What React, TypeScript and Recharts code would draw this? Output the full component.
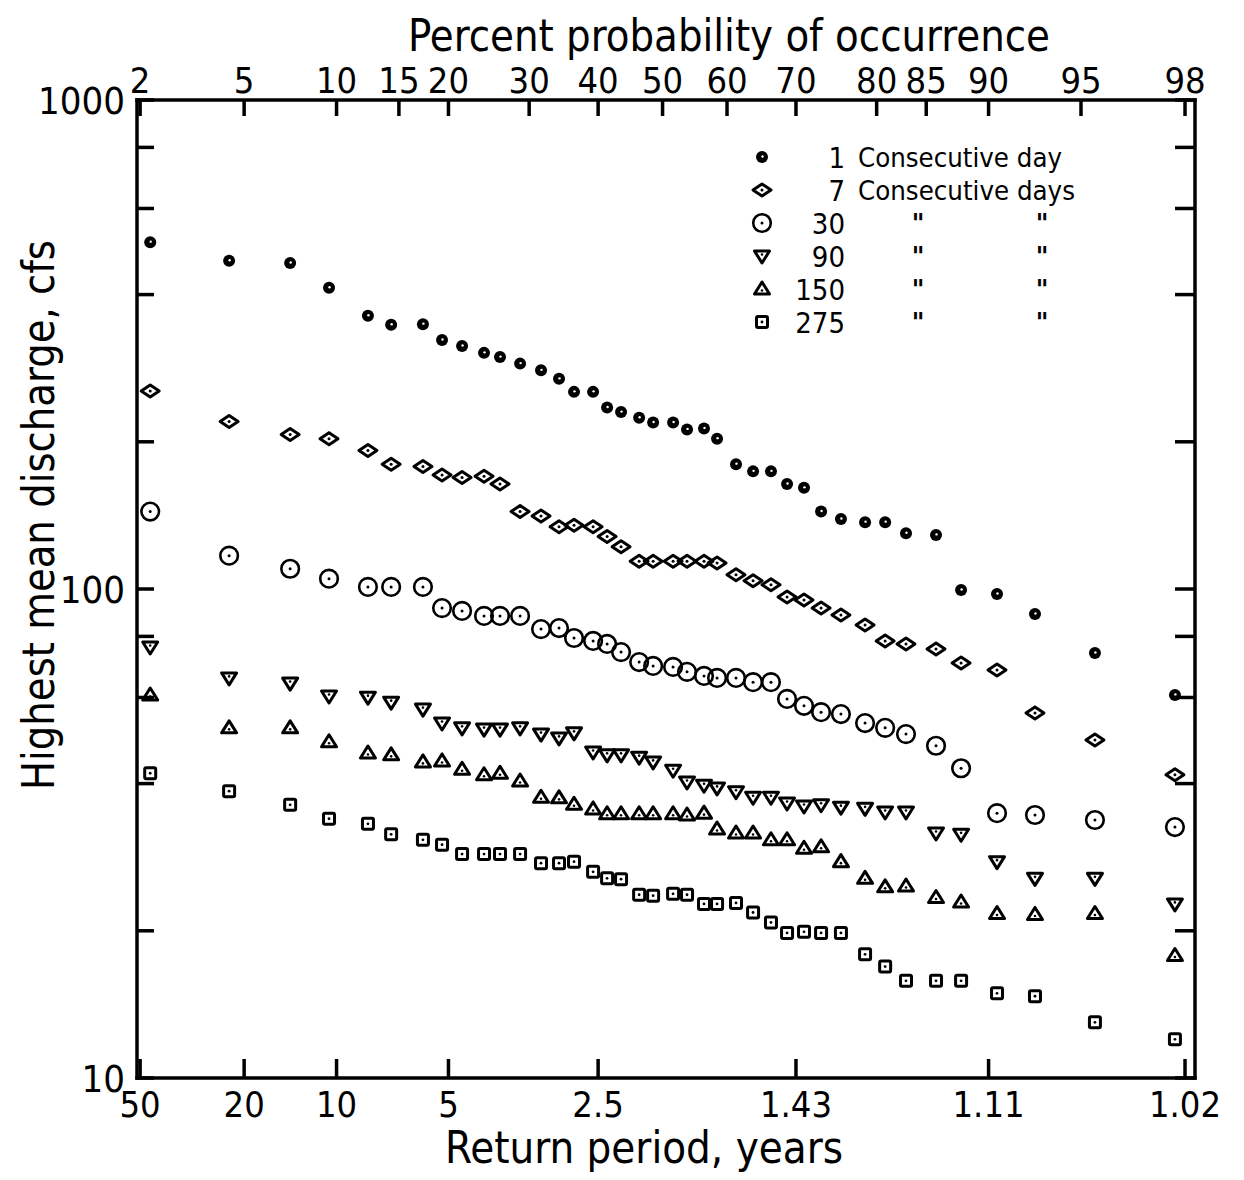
import React from 'react';
import { ScatterChart, Scatter, XAxis, YAxis, Label } from 'recharts';

// Plotting positions (percent probability of occurrence) of the 40 ranked years
const probabilityPercent = [2.2, 4.42, 7.16, 9.49, 12.34, 14.3, 17.31, 19.3, 21.53, 24.14, 26.14, 28.77, 31.64, 34.2, 36.39, 39.24, 41.37, 43.52, 46.33, 48.52, 51.65, 53.83, 56.47, 58.48, 61.36, 63.9, 66.5, 68.77, 71.09, 73.34, 75.84, 78.7, 80.92, 83.07, 85.88, 87.97, 90.57, 92.84, 95.54, 97.8];

// Highest mean discharge, cfs
const oneDay = [512, 469, 464, 413, 362, 347, 348, 323, 314, 304, 298, 289, 280, 269, 253, 253, 235, 230, 224, 219, 219, 212, 213, 203, 180, 174, 174, 164, 161, 144, 139, 137, 137, 130, 129, 99.5, 97.7, 88.9, 74.0, 60.7];
const sevenDay = [254, 220, 207, 203, 192, 180, 178, 171, 169, 170, 164, 144, 141, 134, 135, 134, 128, 122, 114, 114, 114, 114, 114, 113, 107, 104, 102, 96.3, 94.9, 91.4, 88.5, 84.4, 78.3, 77.2, 75.4, 70.6, 68.3, 55.8, 49.1, 41.7];
const thirtyDay = [144, 117, 110, 105, 101, 101, 101, 91.4, 90.2, 88.1, 88.1, 88.1, 82.8, 83.2, 79.4, 78.3, 77.2, 74.3, 70.9, 69.6, 69.3, 67.7, 66.4, 65.8, 65.8, 64.5, 64.5, 59.6, 57.7, 56.0, 55.5, 53.2, 52.0, 50.5, 47.8, 43.0, 34.8, 34.5, 33.7, 32.6];
const ninetyDay = [76.1, 65.8, 64.2, 60.4, 60.1, 58.7, 56.8, 53.2, 52.0, 51.7, 51.7, 52.0, 50.5, 49.6, 50.8, 46.4, 45.8, 45.8, 45.3, 44.3, 42.6, 40.3, 39.7, 39.2, 38.5, 37.5, 37.5, 36.5, 36.0, 36.2, 35.8, 35.6, 35.0, 35.0, 31.7, 31.5, 27.7, 25.6, 25.6, 22.7];
const oneFiftyDay = [60.7, 52.0, 52.0, 48.7, 46.2, 45.8, 44.3, 44.5, 42.8, 41.7, 42.0, 40.5, 37.5, 37.4, 36.3, 35.5, 34.7, 34.7, 34.7, 34.7, 34.7, 34.5, 34.8, 32.3, 31.7, 31.7, 30.7, 30.7, 29.5, 29.7, 27.7, 25.6, 24.6, 24.7, 23.4, 22.9, 21.7, 21.6, 21.7, 17.8];
const twoSeventyFiveDay = [42.0, 38.6, 36.2, 33.9, 33.1, 31.5, 30.7, 30.0, 28.7, 28.7, 28.7, 28.7, 27.5, 27.5, 27.7, 26.4, 25.6, 25.5, 23.7, 23.6, 23.8, 23.7, 22.7, 22.7, 22.8, 21.8, 20.8, 19.8, 19.9, 19.8, 19.8, 17.9, 16.9, 15.8, 15.8, 15.8, 14.9, 14.7, 13.0, 12.0];

// Axis ticks
const topTickPercent = [2, 5, 10, 15, 20, 30, 40, 50, 60, 70, 80, 85, 90, 95, 98];
const returnPeriodPercent = [2, 5, 10, 20, 40, 70, 90, 98];
const returnPeriodLabels = ['50', '20', '10', '5', '2.5', '1.43', '1.11', '1.02'];
const yTicks = [10, 20, 40, 60, 80, 100, 200, 400, 600, 800, 1000];
const yLabelled = [10, 100, 1000];

// Legend
const legendNumbers = ['1', '7', '30', '90', '150', '275'];
const legendTexts = ['Consecutive day', 'Consecutive days', '', '', '', ''];
const legendDitto = [false, false, true, true, true, true];

const FONT = "'DejaVu Sans Condensed', 'Liberation Sans Narrow', 'Roboto Condensed', 'DejaVu Sans', sans-serif";

// inverse normal CDF (normal probability paper scale)
function probit(p: number): number {
  const a = [-3.969683028665376e1, 2.209460984245205e2, -2.759285104469687e2, 1.38357751867269e2, -3.066479806614716e1, 2.506628277459239];
  const b = [-5.447609879822406e1, 1.615858368580409e2, -1.556989798598866e2, 6.680131188771972e1, -1.328068155288572e1];
  const c = [-7.784894002430293e-3, -3.223964580411365e-1, -2.400758277161838, -2.549732539343734, 4.374664141464968, 2.938163982698783];
  const d = [7.784695709041462e-3, 3.224671290700398e-1, 2.445134137142996, 3.754408661907416];
  const pl = 0.02425;
  if (p < pl) {
    const q = Math.sqrt(-2 * Math.log(p));
    return (((((c[0] * q + c[1]) * q + c[2]) * q + c[3]) * q + c[4]) * q + c[5]) / ((((d[0] * q + d[1]) * q + d[2]) * q + d[3]) * q + 1);
  }
  if (p > 1 - pl) {
    const q = Math.sqrt(-2 * Math.log(1 - p));
    return -(((((c[0] * q + c[1]) * q + c[2]) * q + c[3]) * q + c[4]) * q + c[5]) / ((((d[0] * q + d[1]) * q + d[2]) * q + d[3]) * q + 1);
  }
  const q = p - 0.5;
  const r = q * q;
  return (((((a[0] * r + a[1]) * r + a[2]) * r + a[3]) * r + a[4]) * r + a[5]) * q / (((((b[0] * r + b[1]) * r + b[2]) * r + b[3]) * r + b[4]) * r + 1);
}

const toData = (values: number[]) => values.map((v, i) => ({ z: probit(probabilityPercent[i] / 100), v }));

const X_DOMAIN: [number, number] = [-2.066, 2.093];
const topTicksZ = topTickPercent.map((p) => probit(p / 100));
const bottomTicksZ = returnPeriodPercent.map((p) => probit(p / 100));

// ---------- marker shapes ----------
const SW = 3;
const FilledDot = ({ cx, cy }: any) => (
  <g>
    <circle cx={cx} cy={cy} r={6} fill="#000" />
    <circle cx={cx + 0.5} cy={cy - 0.5} r={1.2} fill="#fff" />
  </g>
);
const Diamond = ({ cx, cy }: any) => (
  <g>
    <path d={`M${cx - 9},${cy} L${cx},${cy - 6} L${cx + 9},${cy} L${cx},${cy + 6} Z`} fill="none" stroke="#000" strokeWidth={SW} strokeLinejoin="round" />
    <circle cx={cx} cy={cy} r={1.5} fill="#000" />
  </g>
);
const RingDot = ({ cx, cy }: any) => (
  <g>
    <circle cx={cx} cy={cy} r={8.8} fill="none" stroke="#000" strokeWidth={2.6} />
    <circle cx={cx} cy={cy} r={1.5} fill="#000" />
  </g>
);
const TriDown = ({ cx, cy }: any) => (
  <g>
    <path d={`M${cx - 7.5},${cy - 5} L${cx + 7.5},${cy - 5} L${cx},${cy + 7} Z`} fill="none" stroke="#000" strokeWidth={SW} strokeLinejoin="round" />
    <circle cx={cx} cy={cy - 1.5} r={1.3} fill="#000" />
  </g>
);
const TriUp = ({ cx, cy }: any) => (
  <g>
    <path d={`M${cx - 7.5},${cy + 5} L${cx + 7.5},${cy + 5} L${cx},${cy - 7} Z`} fill="none" stroke="#000" strokeWidth={SW} strokeLinejoin="round" />
    <circle cx={cx} cy={cy + 1.5} r={1.3} fill="#000" />
  </g>
);
const SquareDot = ({ cx, cy }: any) => (
  <g>
    <rect x={cx - 5.5} y={cy - 5.5} width={11} height={11} fill="none" stroke="#000" strokeWidth={SW} rx={1.5} />
    <circle cx={cx} cy={cy} r={1.4} fill="#000" />
  </g>
);

const seriesList = [
  { name: '1 Consecutive day', values: oneDay, Shape: FilledDot },
  { name: '7 Consecutive days', values: sevenDay, Shape: Diamond },
  { name: '30 Consecutive days', values: thirtyDay, Shape: RingDot },
  { name: '90 Consecutive days', values: ninetyDay, Shape: TriDown },
  { name: '150 Consecutive days', values: oneFiftyDay, Shape: TriUp },
  { name: '275 Consecutive days', values: twoSeventyFiveDay, Shape: SquareDot },
];

// ---------- ticks ----------
const TICK_W = 3.5;
const LeftTick = ({ x, y, payload }: any) => (
  <g>
    <line x1={x} y1={y} x2={x + 17} y2={y} stroke="#000" strokeWidth={TICK_W} />
    {yLabelled.includes(payload.value) && (
      <text x={x - 12} y={y + 14} textAnchor="end" fontSize={38} fontFamily={FONT} fill="#000">
        {payload.value}
      </text>
    )}
  </g>
);
const RightTick = ({ x, y }: any) => (
  <line x1={x} y1={y} x2={x - 20} y2={y} stroke="#000" strokeWidth={TICK_W} />
);
const BottomTick = ({ x, y, index }: any) => (
  <g>
    <line x1={x} y1={y} x2={x} y2={y - 19} stroke="#000" strokeWidth={TICK_W} />
    <text x={x} y={y + 39} textAnchor="middle" fontSize={36} fontFamily={FONT} fill="#000">
      {returnPeriodLabels[index]}
    </text>
  </g>
);
const TopTick = ({ x, y, index }: any) => (
  <g>
    <line x1={x} y1={y} x2={x} y2={y + 16} stroke="#000" strokeWidth={TICK_W} />
    <text x={x} y={y - 7} textAnchor="middle" fontSize={36} fontFamily={FONT} fill="#000">
      {topTickPercent[index]}
    </text>
  </g>
);

const axisLine = { stroke: '#000', strokeWidth: 3.5, strokeLinecap: 'square' as const };

const LEG_TOP = 124;
const Legendbox = () => (
  <svg width={370} height={220} style={{ position: 'absolute', left: 730, top: LEG_TOP }}>
    {seriesList.map((s, i) => {
      const cy = 25 + i * 33;
      const S = s.Shape;
      return (
        <g key={s.name}>
          <S cx={24} cy={cy} />
          <text x={107} y={cy + 11} textAnchor="end" fontSize={29} fontFamily={FONT} fill="#000">
            {legendNumbers[i]}
          </text>
          {legendTexts[i] && (
            <text x={120} y={cy + 10} fontSize={27} fontFamily={FONT} fill="#000" textLength={i === 0 ? 204 : 217} lengthAdjust="spacingAndGlyphs">
              {legendTexts[i]}
            </text>
          )}
          {legendDitto[i] && (
            <>
              <text x={180} y={cy + 10} textAnchor="middle" fontSize={27} fontWeight="bold" fontFamily={FONT} fill="#000">"</text>
              <text x={304} y={cy + 10} textAnchor="middle" fontSize={27} fontWeight="bold" fontFamily={FONT} fill="#000">"</text>
            </>
          )}
        </g>
      );
    })}
  </svg>
);

export default function App() {
  return (
    <div style={{ position: 'relative', width: 1228, height: 1170, background: '#fff' }}>
      <ScatterChart width={1228} height={1170} margin={{ top: 22, right: 21, bottom: 20, left: 19 }}>
        <XAxis
          xAxisId="bottom"
          orientation="bottom"
          type="number"
          dataKey="z"
          domain={X_DOMAIN}
          allowDataOverflow
          ticks={bottomTicksZ}
          interval={0}
          height={80}
          tickSize={0}
          tickMargin={0}
          tickLine={false}
          axisLine={axisLine}
          tick={<BottomTick />}
        >
          <Label
            content={() => (
              <text x={636} y={1155} textAnchor="middle" fontSize={44} fontFamily={FONT} fill="#000" textLength={398} lengthAdjust="spacingAndGlyphs">
                Return period, years
              </text>
            )}
          />
        </XAxis>
        <XAxis
          xAxisId="top"
          orientation="top"
          type="number"
          dataKey="z"
          domain={X_DOMAIN}
          allowDataOverflow
          ticks={topTicksZ}
          interval={0}
          height={70}
          tickSize={0}
          tickMargin={0}
          tickLine={false}
          axisLine={axisLine}
          tick={<TopTick />}
        >
          <Label
            content={() => (
              <text x={721} y={43} textAnchor="middle" fontSize={44} fontFamily={FONT} fill="#000" textLength={642} lengthAdjust="spacingAndGlyphs">
                Percent probability of occurrence
              </text>
            )}
          />
        </XAxis>
        <YAxis
          yAxisId="left"
          orientation="left"
          type="number"
          dataKey="v"
          scale="log"
          domain={[10, 1000]}
          allowDataOverflow
          ticks={yTicks}
          interval={0}
          width={110}
          tickSize={0}
          tickMargin={0}
          tickLine={false}
          axisLine={axisLine}
          tick={<LeftTick />}
        >
          <Label
            content={() => (
              <text x={46} y={507} transform="rotate(-90 46 507)" textAnchor="middle" fontSize={44} fontFamily={FONT} fill="#000" textLength={550} lengthAdjust="spacingAndGlyphs">
                Highest mean discharge, cfs
              </text>
            )}
          />
        </YAxis>
        <YAxis
          yAxisId="right"
          orientation="right"
          type="number"
          dataKey="v"
          scale="log"
          domain={[10, 1000]}
          allowDataOverflow
          ticks={yTicks}
          interval={0}
          width={20}
          tickSize={0}
          tickMargin={0}
          tickLine={false}
          axisLine={axisLine}
          tick={<RightTick />}
        />
        {seriesList.map((s) => {
          const S = s.Shape;
          return (
            <Scatter
              key={s.name}
              name={s.name}
              data={toData(s.values)}
              xAxisId="bottom"
              yAxisId="left"
              dataKey="v"
              isAnimationActive={false}
              shape={(p: any) => <S cx={p.cx} cy={p.cy} />}
            />
          );
        })}
      </ScatterChart>
      <Legendbox />
    </div>
  );
}
